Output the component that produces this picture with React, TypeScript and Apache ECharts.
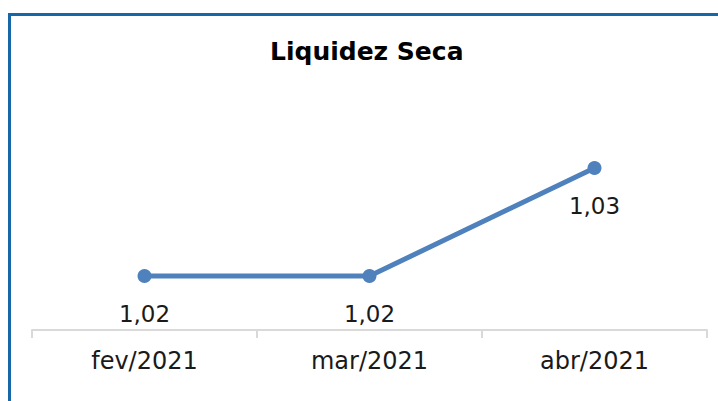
import React, { useEffect, useRef } from "react";
import * as echarts from "echarts";

const categories = ["fev/2021", "mar/2021", "abr/2021"];
const values = [1.02, 1.02, 1.03];
const title = "Liquidez Seca";

export default function App() {
  const ref = useRef<HTMLDivElement>(null);
  useEffect(() => {
    document.body.style.margin = "0";
    const chart = echarts.init(ref.current!, undefined, { renderer: "svg" });
    const font = "'DejaVu Sans', 'Century Gothic', sans-serif";
    chart.setOption({
      animation: false,
      backgroundColor: "#ffffff",
      title: {
        text: title,
        left: 265,
        top: 34,
        textStyle: { fontFamily: font, fontWeight: "bold", fontSize: 25, color: "#000000" },
      },
      graphic: [
        { type: "rect", shape: { x: 8, y: 13, width: 710, height: 3 }, style: { fill: "#1667a8" } },
        { type: "rect", shape: { x: 8, y: 13, width: 3, height: 388 }, style: { fill: "#1667a8" } },
      ],
      grid: { left: 32, right: 11, top: 60, bottom: 71 },
      xAxis: {
        type: "category",
        data: categories,
        boundaryGap: true,
        axisLine: { lineStyle: { color: "#d9d9d9", width: 2 } },
        axisTick: { show: true, length: 8, lineStyle: { color: "#d9d9d9", width: 2 } },
        axisLabel: { fontFamily: font, fontSize: 24, color: "#1a1a1a", margin: 19 },
      },
      yAxis: {
        type: "value",
        min: 1.015,
        max: 1.04,
        show: false,
        splitLine: { show: false },
      },
      series: [
        {
          type: "line",
          data: values,
          symbol: "circle",
          symbolSize: 14,
          lineStyle: { color: "#4f81bd", width: 5 },
          itemStyle: { color: "#4f81bd" },
          label: {
            show: true,
            position: "bottom",
            distance: 19,
            fontFamily: font,
            fontSize: 23,
            color: "#1a1a1a",
            formatter: (p: any) => p.value.toFixed(2).replace(".", ","),
          },
        },
      ],
    });
    return () => chart.dispose();
  }, []);
  return <div ref={ref} style={{ width: 718, height: 401 }} />;
}
